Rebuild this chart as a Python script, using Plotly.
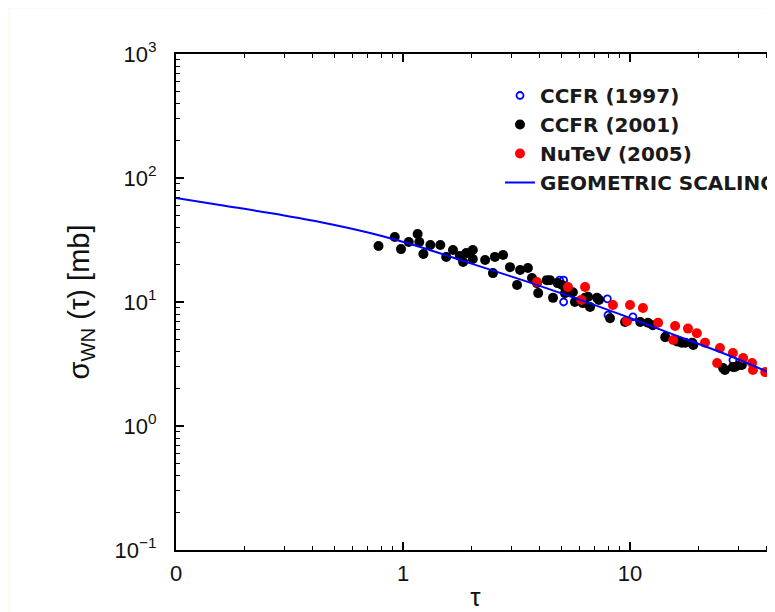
import plotly.graph_objects as go

# ---------------- data ----------------
ccfr97_tau = [5.1, 5.1, 7.95, 8.0, 10.3, 14.3, 28.4, 42.7, 4.9]
ccfr97_sigma = [15.0, 10.0, 10.6, 7.85, 7.6, 5.3, 3.4, 2.1, 15.0]

ccfr01_tau = [0.78, 0.92, 0.98, 1.06, 1.16, 1.18, 1.23, 1.32, 1.46, 1.55,
              1.66, 1.78, 1.84, 1.90, 2.03, 2.03, 2.30, 2.49, 2.54, 2.76,
              2.96, 3.18, 3.28, 3.55, 3.7, 3.89, 3.94, 4.3, 4.44, 4.58,
              4.8, 5.02, 5.17, 5.44, 5.6, 5.72, 6.2, 6.34, 6.53, 6.67,
              7.16, 7.3, 8.17, 9.51, 11.1, 12.0, 12.6, 14.3, 16.1, 16.9,
              17.5, 18.8, 19.0, 25.7, 26.2, 28.4, 29.0, 30.5, 31.1]
ccfr01_sigma = [28.3, 33.4, 26.7, 30.5, 35.3, 30.5, 24.4, 28.8, 28.8, 23.1,
                26.3, 23.5, 21.0, 24.8, 26.3, 22.2, 21.8, 17.1, 23.1, 23.9,
                19.1, 13.7, 18.1, 18.8, 15.6, 14.2, 11.8, 15.0, 15.0, 10.8,
                14.2, 13.7, 11.8, 12.0, 12.0, 10.0, 9.8, 10.8, 11.0, 9.1,
                10.8, 10.4, 7.4, 6.9, 6.9, 6.8, 6.5, 5.2, 4.8, 4.7,
                4.7, 4.7, 4.5, 2.94, 2.83, 2.99, 2.99, 3.10, 3.10]

nutev_tau = [3.89, 5.33, 6.34, 6.1, 8.41, 10.0, 11.4, 9.70, 13.3, 15.8,
             18.0, 19.7, 15.5, 21.4, 24.9, 28.4, 24.2, 31.5, 34.5, 34.8,
             39.4, 42.7]
nutev_sigma = [14.5, 13.2, 13.2, 10.4, 9.46, 9.46, 8.95, 7.0, 6.8, 6.4,
               6.1, 5.6, 4.94, 4.7, 4.26, 3.88, 3.22, 3.53, 3.22, 2.83,
               2.72, 2.58]

gs_tau = [0.1, 0.156, 0.259, 0.430, 0.716, 1.19, 1.97, 3.44, 6.03, 10.0,
          16.6, 27.6, 43.5]
gs_sigma = [69.0, 60.5, 52.2, 44.2, 36.0, 27.8, 20.6, 14.8, 10.4, 7.43,
            5.22, 3.67, 2.58]

x_tickvals = [0.1, 1, 10]
x_ticktext = ["0", "1", "10"]
x_minor = [0.2, 0.3, 0.4, 0.5, 0.6, 0.7, 0.8, 0.9,
           2, 3, 4, 5, 6, 7, 8, 9, 20, 30, 40]
y_tickvals = [0.1, 1, 10, 100, 1000]
y_ticktext = ["10<sup>−1</sup>", "10<sup>0</sup>", "10<sup>1</sup>",
              "10<sup>2</sup>", "10<sup>3</sup>"]
y_minor = [m * 10 ** e for e in (-1, 0, 1, 2) for m in range(2, 10)]

FONT = "Liberation Sans, Arial, Helvetica, sans-serif"
LEGEND_FONT = "DejaVu Sans, Liberation Sans, Arial, sans-serif"

fig = go.Figure()
fig.add_trace(go.Scatter(
    x=ccfr97_tau, y=ccfr97_sigma, mode="markers", name="CCFR (1997)",
    marker=dict(symbol="circle-open", size=7, color="#0000ff",
                line=dict(width=1.8, color="#0000ff"))))
fig.add_trace(go.Scatter(
    x=ccfr01_tau, y=ccfr01_sigma, mode="markers", name="CCFR (2001)",
    marker=dict(symbol="circle", size=10, color="#000000")))
fig.add_trace(go.Scatter(
    x=nutev_tau, y=nutev_sigma, mode="markers", name="NuTeV (2005)",
    marker=dict(symbol="circle", size=10, color="#ff0000")))
fig.add_trace(go.Scatter(
    x=gs_tau, y=gs_sigma, mode="lines", name="GEOMETRIC SCALING",
    line=dict(color="#0000ff", width=2, shape="spline")))

# the page puts the figure 8px in from the top-left corner of the window
OFF = 8
W, H = 775 - OFF, 612 - OFF
L, T = 176 - OFF, 54 - OFF
R, B = 0, H - (550 - OFF)
pw, ph = W - L - R, H - T - B


def px2paper_x(px):  # px: window pixel
    return (px - OFF - L) / pw


def px2paper_y(py):  # py: window pixel
    return (H - B - (py - OFF)) / ph


fig.update_layout(
    width=W, height=H,
    margin=dict(l=L, r=R, t=T, b=B, autoexpand=False),
    paper_bgcolor="#fbfaf4",
    plot_bgcolor="white",
    font=dict(family=FONT, color="#111111"),
    showlegend=True,
    legend=dict(
        x=px2paper_x(500), y=px2paper_y(76), xanchor="left", yanchor="top",
        bgcolor="rgba(0,0,0,0)", borderwidth=0,
        font=dict(family=LEGEND_FONT, size=20, color="#1a1a1a", weight="bold"),
        tracegroupgap=0, itemwidth=30,
    ),
    shapes=[dict(type="rect", xref="paper", yref="paper",
                 x0=px2paper_x(11), x1=px2paper_x(800),
                 y0=px2paper_y(640), y1=px2paper_y(9),
                 fillcolor="white", line=dict(width=0), layer="below")],
)

fig.update_xaxes(
    type="log", range=[-1, -1 + pw / 227.0],
    tickvals=x_tickvals, ticktext=x_ticktext,
    ticks="inside", ticklen=8, tickwidth=1.5, tickcolor="black",
    showline=True, linecolor="black", linewidth=2, mirror="ticks",
    showgrid=False, zeroline=False,
    tickfont=dict(family=FONT, size=22, color="#111111"),
    ticklabelstandoff=3,
    minor=dict(tickvals=x_minor, ticks="inside", ticklen=4,
               tickwidth=1.2, tickcolor="black", showgrid=False),
    title=dict(text="τ", font=dict(family=FONT, size=26, color="#111111"),
               standoff=42),
    automargin=False,
)
fig.update_yaxes(
    type="log", range=[-1, 3],
    tickvals=y_tickvals, ticktext=y_ticktext,
    ticks="inside", ticklen=8, tickwidth=1.5, tickcolor="black",
    showline=True, linecolor="black", linewidth=2, mirror=False,
    showgrid=False, zeroline=False,
    tickfont=dict(family=FONT, size=22, color="#111111"),
    ticklabelstandoff=13,
    minor=dict(tickvals=y_minor, ticks="inside", ticklen=4,
               tickwidth=1.2, tickcolor="black", showgrid=False),
    title=dict(text="σ<sub>WN</sub> (τ) [mb]",
               font=dict(family=FONT, size=29, color="#111111"),
               standoff=16),
    automargin=False,
)

fig.write_html("out.html")
